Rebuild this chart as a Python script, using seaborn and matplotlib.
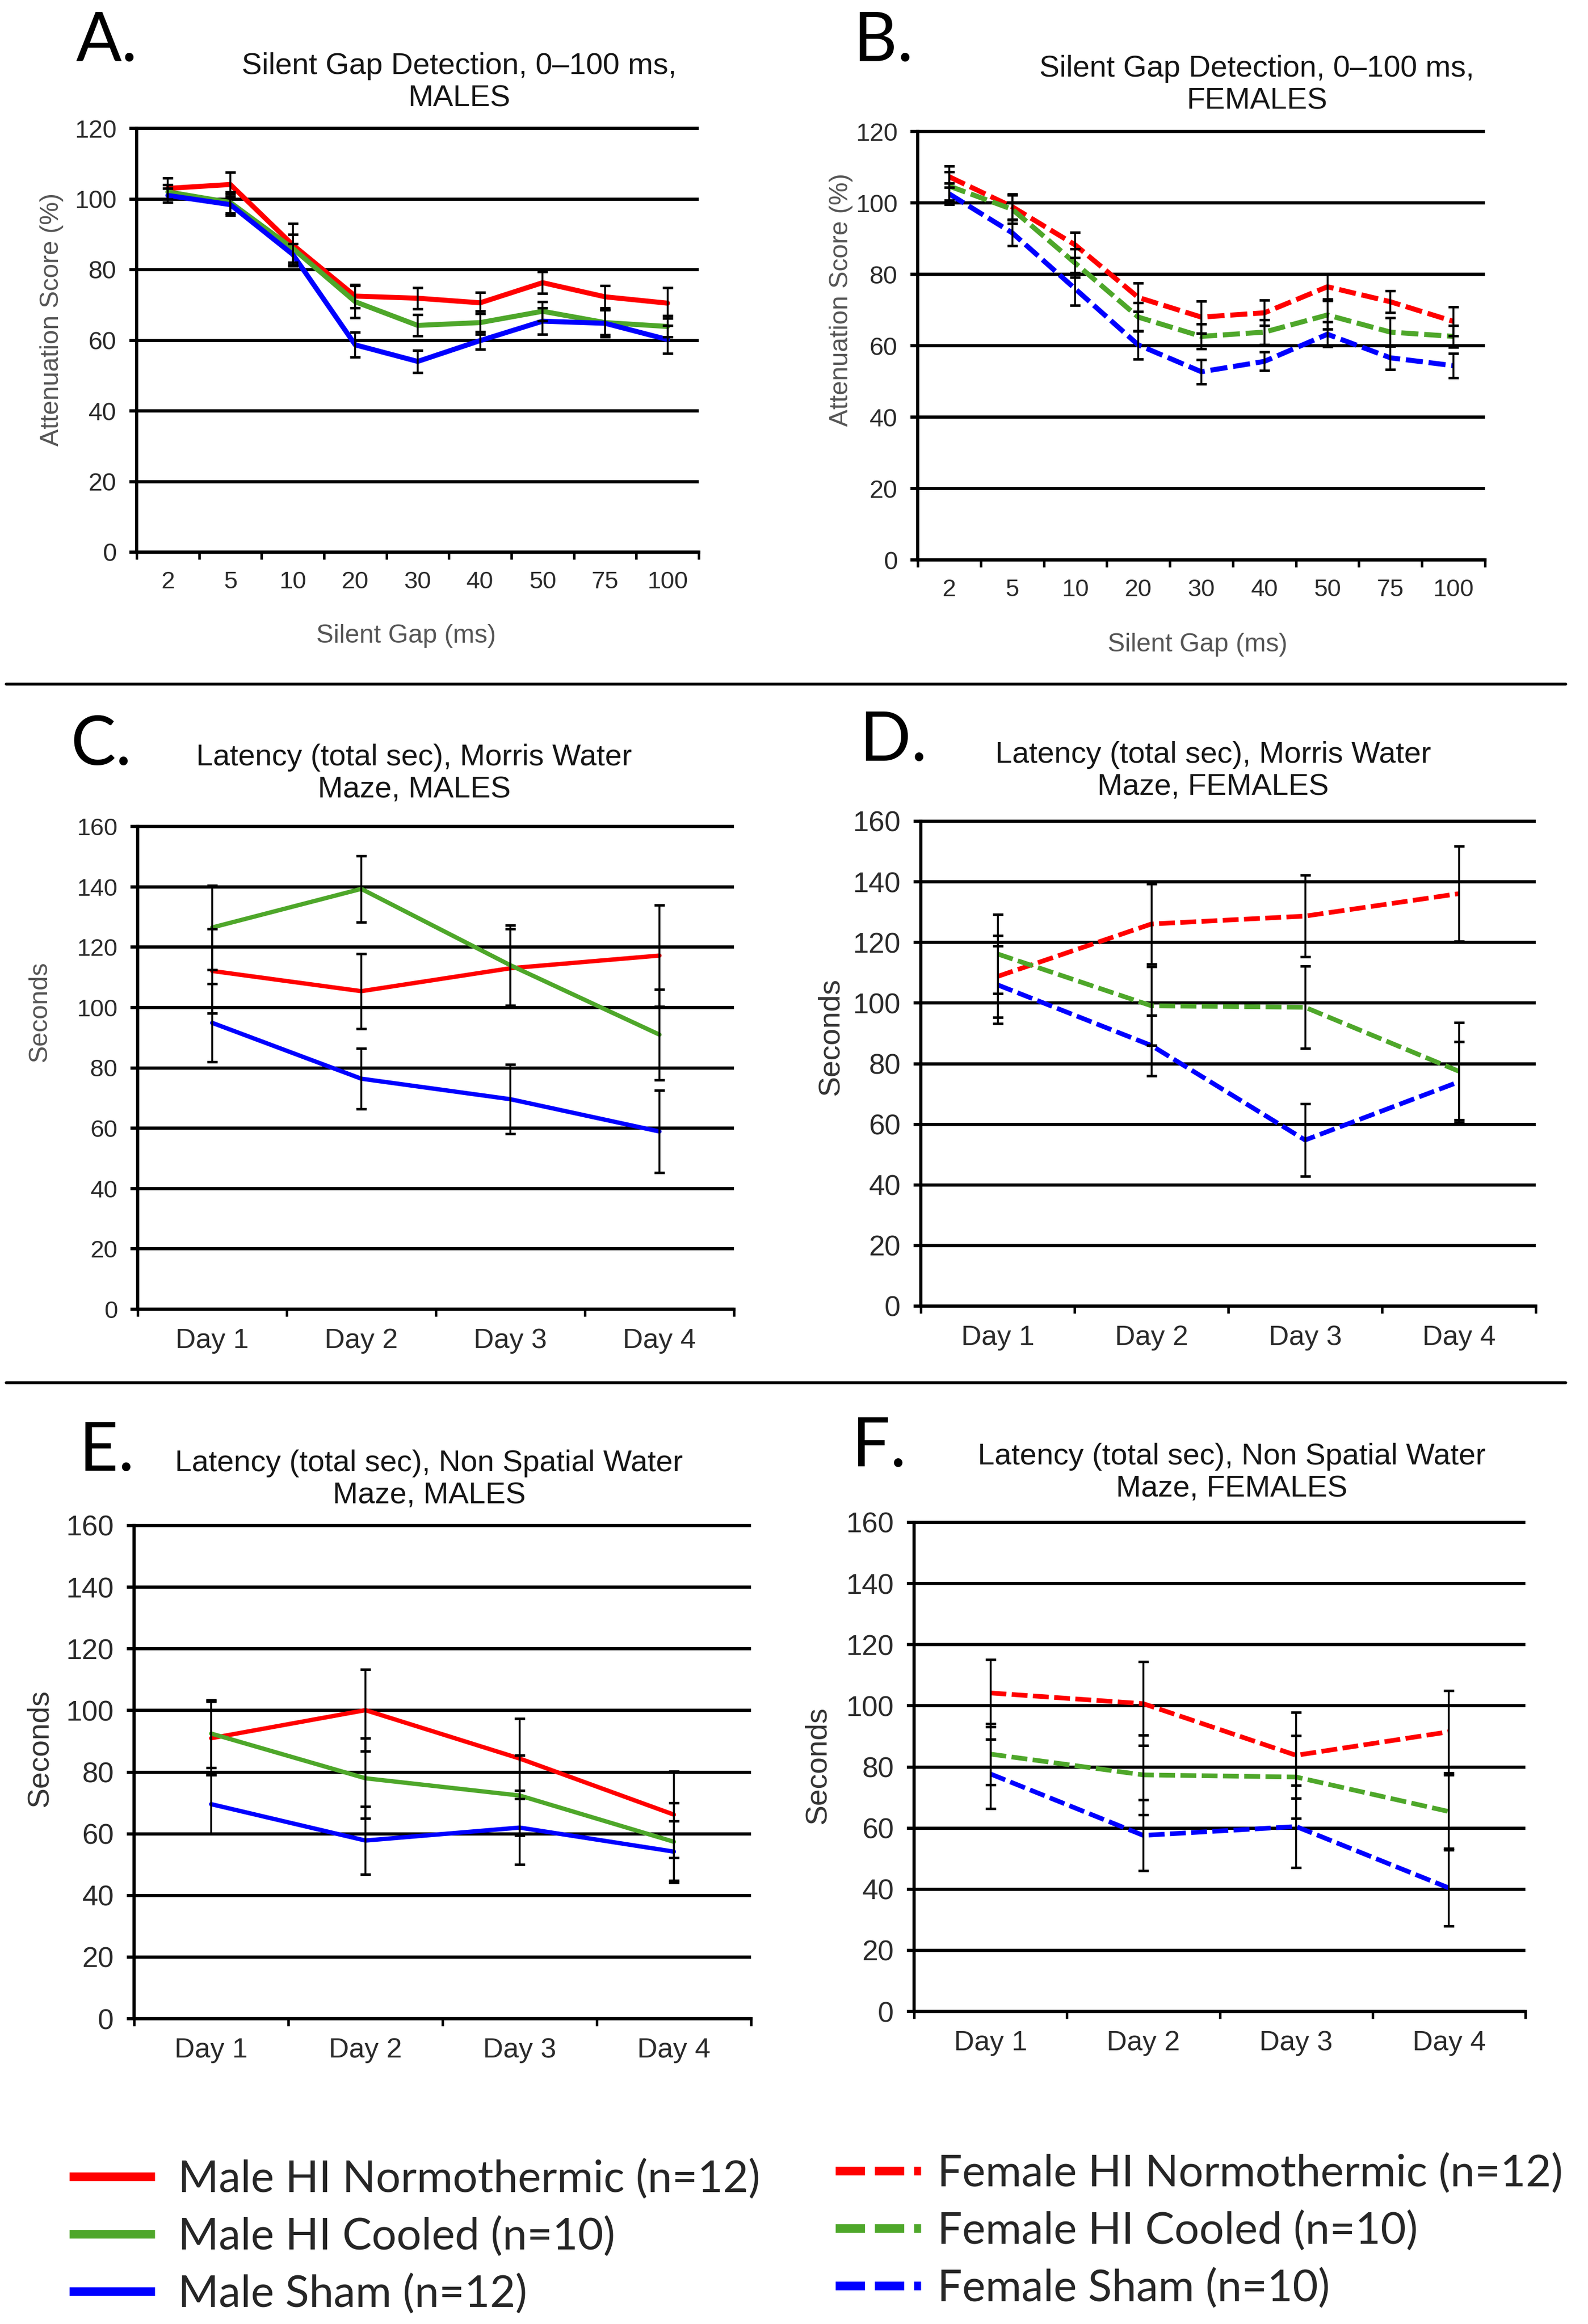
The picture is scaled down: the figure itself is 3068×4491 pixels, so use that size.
import numpy as np
import pandas as pd
import matplotlib.pyplot as plt
import seaborn as sns
from matplotlib.lines import Line2D

sns.set_theme(style="white")
plt.rcParams['font.family'] = ['Liberation Sans', 'DejaVu Sans']

# ---- data (means and SEM) ----
gaps = ['2', '5', '10', '20', '30', '40', '50', '75', '100']
days = ['Day 1', 'Day 2', 'Day 3', 'Day 4']
groups = ['Normothermic', 'Cooled', 'Sham']

# A: silent gap, males
a_norm = [103.0, 104.1, 87.0, 72.5, 71.9, 70.6, 76.3, 72.3, 70.5]
a_norm_err = [3.0, 3.5, 6.0, 3.3, 3.0, 3.0, 3.1, 3.2, 4.3]
a_cool = [102.0, 99.0, 86.0, 70.9, 64.2, 65.0, 68.2, 65.0, 63.9]
a_cool_err = [2.0, 3.0, 4.0, 4.5, 3.0, 3.3, 2.7, 3.5, 3.0]
a_sham = [101.0, 98.4, 84.3, 58.7, 54.0, 59.9, 65.4, 64.8, 60.2]
a_sham_err = [2.0, 3.0, 3.0, 3.5, 3.2, 2.5, 3.7, 3.9, 4.0]

# B: silent gap, females
b_norm = [107.3, 98.9, 88.2, 73.5, 68.0, 69.2, 76.5, 72.3, 66.8]
b_norm_err = [3.0, 3.5, 3.5, 4.0, 4.5, 3.5, 3.5, 3.0, 4.0]
b_cool = [104.7, 98.2, 83.1, 68.0, 62.6, 63.8, 68.6, 63.8, 62.6]
b_cool_err = [4.0, 4.0, 4.0, 4.0, 3.5, 3.5, 4.0, 4.0, 3.0]
b_sham = [102.5, 91.6, 75.9, 60.2, 52.7, 55.6, 63.2, 56.6, 54.4]
b_sham_err = [3.0, 3.6, 4.6, 4.0, 3.4, 2.6, 3.5, 3.2, 3.4]

# C: Morris water maze, males
c_norm = [112.1, 105.4, 113.0, 117.2]
c_norm_err = [14.0, 12.4, 13.0, 16.8]
c_cool = [126.5, 139.3, 114.0, 91.0]
c_cool_err = [14.0, 11.0, 13.3, 15.0]
c_sham = [94.9, 76.4, 69.6, 58.9]
c_sham_err = [13.0, 10.0, 11.5, 13.6]

# D: Morris water maze, females
d_norm = [108.8, 126.1, 128.7, 136.1]
d_norm_err = [13.5, 13.3, 13.5, 15.7]
d_cool = [116.2, 99.1, 98.6, 77.5]
d_cool_err = [13.0, 13.0, 13.6, 16.0]
d_sham = [106.0, 86.0, 54.8, 74.0]
d_sham_err = [12.8, 10.0, 12.0, 13.3]

# E: non spatial water maze, males
e_norm = [91.0, 100.1, 84.4, 66.2]
e_norm_err = [12.0, 13.3, 13.0, 14.0]
e_cool = [92.5, 78.0, 72.4, 57.4]
e_cool_err = [11.0, 13.0, 13.0, 12.6]
e_sham = [69.6, 57.8, 62.0, 54.2]
e_sham_err = [9.5, 11.0, 12.0, 10.0]

# F: non spatial water maze, females
f_norm = [104.2, 100.7, 83.8, 91.5]
f_norm_err = [11.0, 13.7, 14.0, 13.4]
f_cool = [84.2, 77.4, 76.7, 65.4]
f_cool_err = [10.0, 13.0, 13.6, 12.0]
f_sham = [77.7, 57.6, 60.5, 40.4]
f_sham_err = [11.3, 11.6, 13.5, 12.4]

male_labels = ['Male HI Normothermic (n=12)', 'Male HI Cooled (n=10)', 'Male Sham (n=12)']
female_labels = ['Female HI Normothermic (n=12)', 'Female HI Cooled (n=10)', 'Female Sham (n=10)']

palette = {'Normothermic': '#ff0000', 'Cooled': '#4ea72a', 'Sham': '#0000ff'}
DASH = (0, (3.4, 1.15))

W, H = 3068, 4491
fig = plt.figure(figsize=(W / 100, H / 100), dpi=100)


def px(x, y):
    return x / W, 1 - y / H


def panel(rect, cats, means, errs, ymax, dashed, lw, xsize, ysize):
    l, t, r, b = rect
    ax = fig.add_axes([l / W, 1 - b / H, (r - l) / W, (b - t) / H])
    n = len(cats)
    df = pd.DataFrame({
        'pos': np.tile(np.arange(n), 3),
        'value': np.concatenate(means),
        'sem': np.concatenate(errs),
        'group': np.repeat(groups, n),
    })
    yt = np.arange(0, ymax + 1, 20)
    ax.hlines(yt, -0.5, n - 0.5, colors='black', lw=4.5, clip_on=False, zorder=1)
    sns.lineplot(data=df, x='pos', y='value', hue='group', hue_order=groups,
                 palette=palette, linewidth=lw, linestyle=DASH if dashed else '-',
                 errorbar=None, legend=False, ax=ax, zorder=3)
    ax.errorbar(df['pos'], df['value'], yerr=df['sem'], fmt='none', ecolor='black',
                elinewidth=2.6, capsize=7, capthick=3.5, zorder=4)
    ax.set_xlim(-0.5, n - 0.5)
    ax.set_ylim(0, ymax)
    ax.set_yticks(yt)
    ax.set_xticks(np.arange(n))
    ax.set_xticklabels(cats)
    ax.set_xticks(np.arange(n + 1) - 0.5, minor=True)
    ax.set_xlabel('')
    ax.set_ylabel('')
    sns.despine(ax=ax)
    for s in ['left', 'bottom']:
        ax.spines[s].set_linewidth(4.5)
        ax.spines[s].set_color('black')
    ax.tick_params(axis='x', which='major', length=0, pad=26, labelsize=xsize,
                   labelcolor='#2a2a2a')
    ax.tick_params(axis='x', which='minor', bottom=True, length=10, width=3.5,
                   direction='out', color='black')
    ax.tick_params(axis='y', left=True, length=10, width=4.5, direction='out',
                   color='black', pad=18, labelsize=ysize, labelcolor='#2a2a2a')
    return ax


panel((264, 248, 1350, 1067), gaps, [a_norm, a_cool, a_sham],
      [a_norm_err, a_cool_err, a_sham_err], 120, False, 7, 34, 35)
panel((1773, 254, 2869, 1082), gaps, [b_norm, b_cool, b_sham],
      [b_norm_err, b_cool_err, b_sham_err], 120, True, 7, 34, 35)
panel((266, 1597, 1418, 2530), days, [c_norm, c_cool, c_sham],
      [c_norm_err, c_cool_err, c_sham_err], 160, False, 6, 39, 34)
panel((1779, 1587, 2967, 2524), days, [d_norm, d_cool, d_sham],
      [d_norm_err, d_cool_err, d_sham_err], 160, True, 6.5, 39, 40)
panel((259, 2948, 1451, 3901), days, [e_norm, e_cool, e_sham],
      [e_norm_err, e_cool_err, e_sham_err], 160, False, 6, 39, 40)
panel((1766, 2942, 2947, 3887), days, [f_norm, f_cool, f_sham],
      [f_norm_err, f_cool_err, f_sham_err], 160, True, 6.5, 39, 40)

# titles
titles = [
    (887, 159, 'Silent Gap Detection, 0\u2013100 ms,\nMALES'),
    (2428, 164, 'Silent Gap Detection, 0\u2013100 ms,\nFEMALES'),
    (800, 1495, 'Latency (total sec), Morris Water\nMaze, MALES'),
    (2344, 1490, 'Latency (total sec), Morris Water\nMaze, FEMALES'),
    (829, 2859, 'Latency (total sec), Non Spatial Water\nMaze, MALES'),
    (2380, 2846, 'Latency (total sec), Non Spatial Water\nMaze, FEMALES'),
]
for x, y, s in titles:
    fig.text(*px(x, y), s, ha='center', va='center', fontsize=42,
             color='#151515', linespacing=1.2)

# panel letters
letters = [(147, 118, 'A.'), (1649, 118, 'B.'), (137, 1478, 'C.'),
           (1661, 1470, 'D.'), (153, 2842, 'E.'), (1646, 2834, 'F.')]
for x, y, s in letters:
    fig.text(*px(x, y), s, ha='left', va='baseline', fontsize=94,
             family='Lato', color='black')

# axis labels
ylabels = [(100, 617, 'Attenuation Score (%)', 36, '#555555'),
           (1625, 579, 'Attenuation Score (%)', 36, '#555555'),
           (77, 1955, 'Seconds', 36, '#555555'),
           (1605, 2003, 'Seconds', 42, '#333333'),
           (77, 3378, 'Seconds', 42, '#333333'),
           (1580, 3411, 'Seconds', 42, '#333333')]
for x, y, s, fs, c in ylabels:
    fig.text(*px(x, y), s, rotation=90, ha='center', va='center', fontsize=fs, color=c)
fig.text(*px(785, 1229), 'Silent Gap (ms)', ha='center', va='center', fontsize=36, color='#555555')
fig.text(*px(2314, 1246), 'Silent Gap (ms)', ha='center', va='center', fontsize=36, color='#555555')

# separators between rows
for y in [1322, 2672]:
    fig.add_artist(Line2D([12 / W, 3025 / W], [1 - y / H] * 2, color='black', lw=4))

# legends
male_handles = [Line2D([], [], color=palette[g], lw=12, solid_capstyle='butt')
                for g in groups]
female_handles = [Line2D([], [], color=palette[g], lw=12, linestyle=DASH,
                         dash_capstyle='butt') for g in groups]
common = dict(frameon=False, prop={'family': 'Lato', 'size': 61}, handlelength=1.95,
              borderpad=0, borderaxespad=0, labelspacing=0.38)
fig.legend(male_handles, male_labels, loc='center left',
           bbox_to_anchor=px(134, 4322), handletextpad=0.53, **common)
fig.legend(female_handles, female_labels, loc='center left',
           bbox_to_anchor=px(1614, 4311), handletextpad=0.37, **common)

fig.savefig('out.png', dpi=100, facecolor='white')
